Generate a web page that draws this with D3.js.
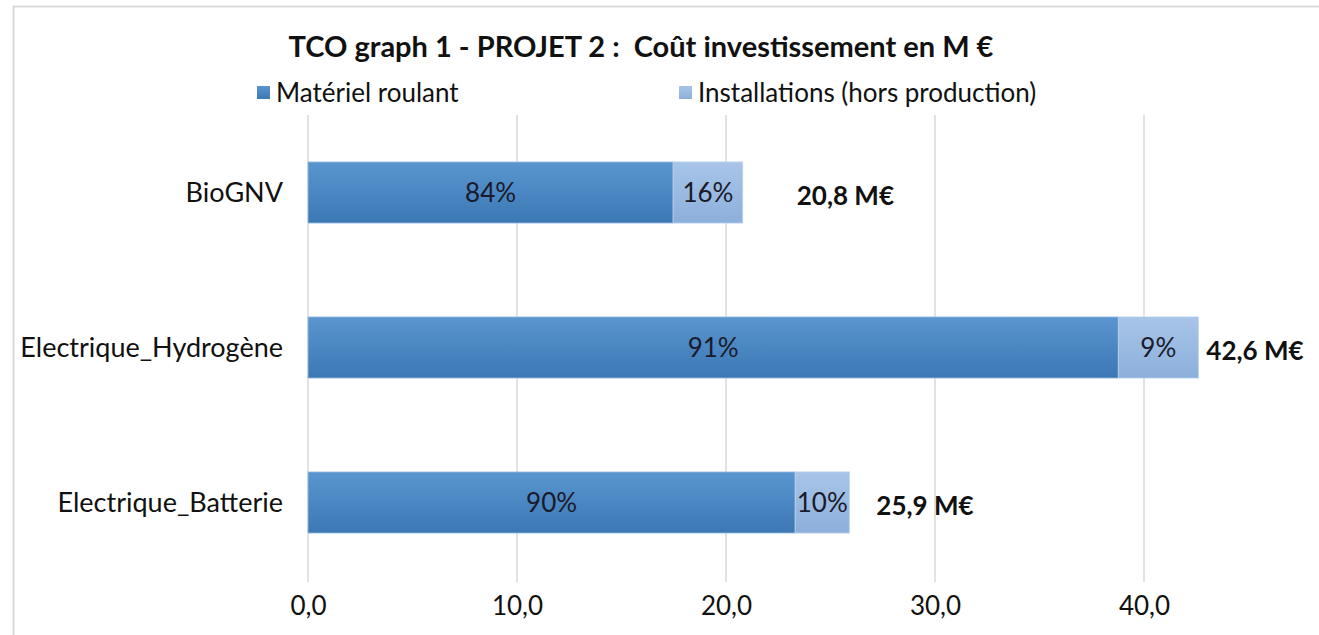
<!DOCTYPE html>
<html>
<head>
<meta charset="utf-8">
<script src="https://cdn.jsdelivr.net/npm/d3@7"></script>
<style>
  body { margin: 0; background: #fff; overflow: hidden; }
  svg { display: block; }
  svg text { font-family: Lato, "Noto Sans", sans-serif; fill: #111; white-space: pre; }
</style>
</head>
<body>
<div id="chart"></div>
<script>
// categories, top to bottom
const categories = ["BioGNV", "Electrique_Hydrogène", "Electrique_Batterie"];
// values in M€
const materiel = [17.47, 38.77, 23.31];
const installations = [3.33, 3.83, 2.59];
const pctMateriel = ["84%", "91%", "90%"];
const pctInstall = ["16%", "9%", "10%"];
const totals = ["20,8 M€", "42,6 M€", "25,9 M€"];
const ticks = [0, 10, 20, 30, 40];
const seriesNames = ["Matériel roulant", "Installations (hors production)"];

// total labels are hand placed text boxes in the original, gap from bar end (px)
const totalGap = [54, 8, 27];

const width = 1319, height = 635;
const svg = d3.select("#chart").append("svg")
    .attr("width", width)
    .attr("height", height);

// gradients
const defs = svg.append("defs");
function grad(id, top, bottom) {
    let g = defs.append("linearGradient").attr("id", id)
        .attr("x1", 0).attr("y1", 0).attr("x2", 0).attr("y2", 1);
    g.append("stop").attr("offset", "0%").attr("stop-color", top);
    g.append("stop").attr("offset", "100%").attr("stop-color", bottom);
}
grad("gDark", "#5a95cf", "#3b78b4");
grad("gLight", "#a8c5e8", "#8cafdb");

// chart frame (right and bottom edges are cut off)
svg.append("rect")
    .attr("x", 13.5).attr("y", 6.5)
    .attr("width", 2000).attr("height", 2000)
    .attr("fill", "none").attr("stroke", "#d9d9d9").attr("stroke-width", 2);

const x = d3.scaleLinear().domain([0, 40]).range([308, 1144]);
const y = d3.scaleBand().domain(categories).range([115, 580]).paddingInner(0.606).paddingOuter(0.303);

// gridlines
svg.append("g").selectAll("line")
    .data(ticks)
    .join("line")
    .attr("x1", d => x(d)).attr("x2", d => x(d))
    .attr("y1", 115).attr("y2", 582)
    .attr("stroke", "#d9d9d9").attr("stroke-width", 1.5);

// x axis labels
const xAxis = d3.axisBottom(x).tickValues(ticks).tickSize(0).tickPadding(0)
    .tickFormat(d => d3.format(".1f")(d).replace(".", ","));
svg.append("g")
    .attr("transform", "translate(0,597)")
    .call(xAxis)
    .call(g => g.select(".domain").remove())
    .selectAll("text")
    .attr("font-size", 26)
    .attr("font-family", "Lato, sans-serif")
    .attr("dy", "0.71em")
    .style("fill", "#111");

// category labels
svg.append("g").selectAll("text")
    .data(categories)
    .join("text")
    .attr("x", 283)
    .attr("y", d => y(d) + y.bandwidth() / 2)
    .attr("dy", "0.35em")
    .attr("text-anchor", "end")
    .attr("font-size", 27)
    .text(d => d);

// bars
const rows = categories.map((c, i) => ({ c, m: materiel[i], s: installations[i], i }));

svg.append("g").selectAll("rect")
    .data(rows)
    .join("rect")
    .attr("x", d => x(0))
    .attr("y", d => y(d.c))
    .attr("width", d => x(d.m) - x(0))
    .attr("height", y.bandwidth())
    .attr("fill", "url(#gDark)")
    .attr("stroke", "#9dbde3").attr("stroke-width", 0.8);

svg.append("g").selectAll("rect")
    .data(rows)
    .join("rect")
    .attr("x", d => x(d.m))
    .attr("y", d => y(d.c))
    .attr("width", d => x(d.m + d.s) - x(d.m))
    .attr("height", y.bandwidth())
    .attr("fill", "url(#gLight)")
    .attr("stroke", "#b8d0ee").attr("stroke-width", 0.8);

// percentage labels
svg.append("g").selectAll("text")
    .data(rows)
    .join("text")
    .attr("x", d => (x(0) + x(d.m)) / 2)
    .attr("y", d => y(d.c) + y.bandwidth() / 2)
    .attr("dy", "0.35em")
    .attr("text-anchor", "middle")
    .attr("font-size", 26)
    .style("fill", "#1a1a2a")
    .text(d => pctMateriel[d.i]);

svg.append("g").selectAll("text")
    .data(rows)
    .join("text")
    .attr("x", d => (x(d.m) + x(d.m + d.s)) / 2)
    .attr("y", d => y(d.c) + y.bandwidth() / 2)
    .attr("dy", "0.35em")
    .attr("text-anchor", "middle")
    .attr("font-size", 26)
    .style("fill", "#1a1a2a")
    .text(d => pctInstall[d.i]);

// totals
svg.append("g").selectAll("text")
    .data(rows)
    .join("text")
    .attr("x", d => x(d.m + d.s) + totalGap[d.i])
    .attr("y", d => y(d.c) + y.bandwidth() / 2 + 3)
    .attr("dy", "0.35em")
    .attr("font-size", 26)
    .attr("font-weight", "bold")
    .text(d => totals[d.i]);

// title
svg.append("text")
    .attr("x", 641).attr("y", 57)
    .attr("text-anchor", "middle")
    .attr("font-size", 29)
    .attr("font-weight", "bold")
    .text("TCO graph 1 - PROJET 2 :  Coût investissement en M €");

// legend
const legX = [257, 679];
const legend = svg.append("g").selectAll("g")
    .data(seriesNames)
    .join("g")
    .attr("transform", (d, i) => `translate(${legX[i]},86)`);
legend.append("rect")
    .attr("width", 13).attr("height", 13)
    .attr("fill", (d, i) => i == 0 ? "url(#gDark)" : "url(#gLight)");
legend.append("text")
    .attr("x", 19).attr("y", 7)
    .attr("dy", "0.35em")
    .attr("font-size", 26)
    .text(d => d);
</script>
</body>
</html>
